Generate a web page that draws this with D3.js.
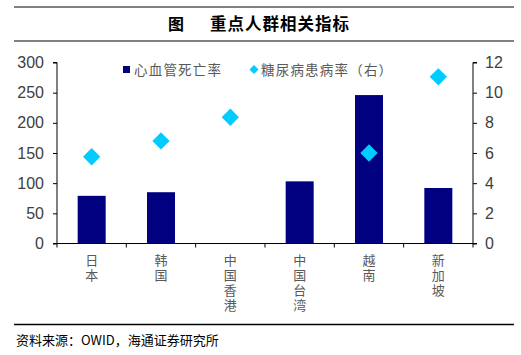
<!DOCTYPE html>
<html><head><meta charset="utf-8">
<script src="https://cdn.jsdelivr.net/npm/d3@7"></script>
<style>body{margin:0;background:#fff}svg{display:block}</style>
</head><body><svg id="c" width="521" height="355"></svg>
<script>
const categories = ["日本","韩国","中国香港","中国台湾","越南","新加坡"];
const cvdDeath = [79, 85, null, 103, 246, 92];
const diabetes = [5.75, 6.8, 8.37, null, 6.0, 11.05];
const leftTicks = [0,50,100,150,200,250,300];
const rightTicks = [0,2,4,6,8,10,12];
const titleLabel = "图";
const title = "重点人群相关指标";
const source = "资料来源：OWID，海通证券研究所";
const legendNames = ["心血管死亡率","糖尿病患病率（右）"];

const svg = d3.select("#c");
const cjk = "'Noto Sans CJK SC', sans-serif";
const lat = "'Liberation Sans', Arial, sans-serif";
const m = {l:57, r:473, t:62.5, b:243.5};

// frame lines
svg.append("line").attr("x1",14).attr("x2",514).attr("y1",7).attr("y2",7).attr("stroke","#808080").attr("stroke-width",2);
svg.append("line").attr("x1",14).attr("x2",514).attr("y1",41).attr("y2",41).attr("stroke","#808080").attr("stroke-width",2);
svg.append("line").attr("x1",14).attr("x2",514).attr("y1",324.5).attr("y2",324.5).attr("stroke","#000").attr("stroke-width",1.5);
svg.append("text").attr("x",176).attr("y",29.5).attr("text-anchor","middle").attr("font-family",cjk).attr("font-weight","bold").attr("font-size",16).attr("fill","#000").text(titleLabel);
svg.append("text").attr("x",210).attr("y",29.5).attr("font-family",cjk).attr("font-weight","bold").attr("font-size",16.5).attr("letter-spacing",1).attr("fill","#000").text(title);
svg.append("text").attr("x",16).attr("y",345).attr("font-family",cjk).attr("font-size",13).attr("fill","#000").text(source);

const x = d3.scaleBand().domain(categories).range([m.l,m.r]).paddingInner(0).paddingOuter(0);
const yL = d3.scaleLinear().domain([0,300]).range([m.b,m.t]);
const yR = d3.scaleLinear().domain([0,12]).range([m.b,m.t]);

// bars
const bw = 28;
svg.append("g").selectAll("rect").data(categories.map((c,i)=>({c,v:cvdDeath[i]})).filter(d=>d.v!=null))
  .join("rect").attr("x",d=>x(d.c)+x.bandwidth()/2-bw/2).attr("width",bw)
  .attr("y",d=>yL(d.v)).attr("height",d=>yL(0)-yL(d.v)).attr("fill","#000080");

// diamonds
svg.append("g").selectAll("path").data(categories.map((c,i)=>({c,v:diabetes[i]})).filter(d=>d.v!=null))
  .join("path").attr("d",d3.symbol(d3.symbolSquare,150)())
  .attr("transform",d=>`translate(${x(d.c)+x.bandwidth()/2},${yR(d.v)}) rotate(45)`)
  .attr("fill","#00ccff");

// axes
const gL = svg.append("g").attr("transform",`translate(${m.l},0)`).call(d3.axisLeft(yL).tickValues(leftTicks).tickSize(4).tickPadding(9));
const gR = svg.append("g").attr("transform",`translate(${m.r},0)`).call(d3.axisRight(yR).tickValues(rightTicks).tickSize(4).tickPadding(8));
[gL,gR].forEach(g=>{
  g.selectAll("text").attr("font-family",lat).attr("font-size",16).attr("fill","#404040");
  g.select(".domain").attr("stroke","#000");
  g.selectAll(".tick line").attr("stroke","#000");
});
gL.select(".domain").attr("d",`M-4,${m.t}H0V${m.b}H-4`);
gR.select(".domain").attr("d",`M4,${m.t}H0V${m.b}H4`);

// bottom axis
const gB = svg.append("g");
gB.append("line").attr("x1",m.l).attr("x2",m.r).attr("y1",m.b).attr("y2",m.b).attr("stroke","#000");
const bounds = categories.map(c=>x(c)).concat([m.r]);
gB.selectAll(".bt").data(bounds).join("line").attr("x1",d=>d).attr("x2",d=>d).attr("y1",m.b).attr("y2",m.b+4).attr("stroke","#000");
gB.selectAll(".cl").data(categories).join("text")
  .attr("x",c=>x(c)+x.bandwidth()/2).attr("y",254)
  .attr("font-family",cjk).attr("font-size",13).attr("fill","#595959")
  .style("writing-mode","vertical-rl").style("text-orientation","upright").style("letter-spacing","2px")
  .text(c=>c);

// legend
const lg = svg.append("g").attr("font-family",cjk).attr("font-size",13.5).attr("fill","#595959").attr("letter-spacing",1.2);
lg.append("rect").attr("x",123).attr("y",66).attr("width",7).attr("height",7).attr("fill","#000080");
lg.append("text").attr("x",134).attr("y",74.5).text(legendNames[0]);
lg.append("path").attr("d",d3.symbol(d3.symbolSquare,40)()).attr("transform","translate(254,69.5) rotate(45)").attr("fill","#00ccff");
lg.append("text").attr("x",261).attr("y",74.5).text(legendNames[1]);
</script></body></html>
